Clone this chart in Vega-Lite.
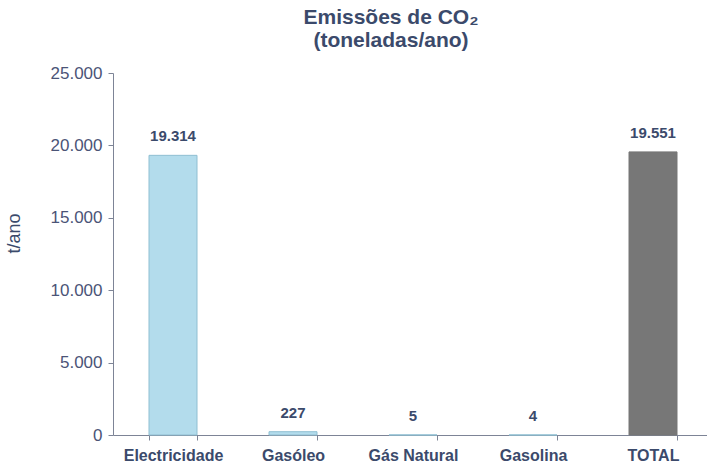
{
  "$schema": "https://vega.github.io/schema/vega-lite/v6.json",
  "autosize": "none",
  "width": 600,
  "height": 362,
  "padding": {"left": 113, "top": 73, "right": 0, "bottom": 30},
  "background": "white",
  "config": {
    "font": "Liberation Sans",
    "view": {"stroke": null},
    "locale": {"number": {"decimal": ",", "thousands": ".", "grouping": [3], "currency": ["€", ""]}}
  },
  "title": {
    "text": ["Emissões de CO₂", "(toneladas/ano)"],
    "anchor": "middle",
    "frame": "group",
    "dx": -22,
    "fontSize": 21,
    "fontWeight": "bold",
    "color": "#3b4a6b",
    "lineHeight": 23,
    "offset": 13
  },
  "data": {
    "values": [
      {"fonte": "Electricidade", "valor": 19314, "tipo": "parcial"},
      {"fonte": "Gasóleo", "valor": 227, "tipo": "parcial"},
      {"fonte": "Gás Natural", "valor": 5, "tipo": "parcial"},
      {"fonte": "Gasolina", "valor": 4, "tipo": "parcial"},
      {"fonte": "TOTAL", "valor": 19551, "tipo": "total"}
    ]
  },
  "encoding": {
    "x": {
      "field": "fonte",
      "type": "nominal",
      "sort": null,
      "scale": {"paddingInner": 0.6, "paddingOuter": 0.3},
      "axis": {
        "title": null,
        "labelAngle": 0,
        "labelFont": "Liberation Sans",
        "labelFontSize": 16,
        "labelFontWeight": "bold",
        "labelColor": "#3b4a6b",
        "labelPadding": 7,
        "domainColor": "#7d8496",
        "tickColor": "#7d8496",
        "tickSize": 5,
        "tickBand": "extent"
      }
    },
    "y": {
      "field": "valor",
      "type": "quantitative",
      "scale": {"domain": [0, 25000]},
      "axis": {
        "title": "t/ano",
        "titleFont": "Liberation Sans",
        "titleFontSize": 18,
        "titleFontWeight": "normal",
        "titleColor": "#3b4a6b",
        "titleX": -90,
        "titleY": 160,
        "values": [0, 5000, 10000, 15000, 20000, 25000],
        "format": ",d",
        "labelFontSize": 17,
        "labelColor": "#4b5477",
        "labelPadding": 6,
        "domainColor": "#7d8496",
        "tickColor": "#7d8496",
        "tickSize": 5,
        "grid": false
      }
    }
  },
  "layer": [
    {
      "mark": {"type": "bar", "strokeWidth": 1},
      "encoding": {
        "color": {
          "field": "tipo",
          "type": "nominal",
          "scale": {"domain": ["parcial", "total"], "range": ["#b3dcec", "#777777"]},
          "legend": null
        },
        "stroke": {
          "field": "tipo",
          "type": "nominal",
          "scale": {"domain": ["parcial", "total"], "range": ["#8fbfd2", "#777777"]},
          "legend": null
        }
      }
    },
    {
      "mark": {"type": "text", "dy": -11, "baseline": "bottom", "fontSize": 15, "fontWeight": "bold", "color": "#3b4a6b"},
      "encoding": {
        "text": {"field": "valor", "type": "quantitative", "format": ",d"}
      }
    }
  ]
}
